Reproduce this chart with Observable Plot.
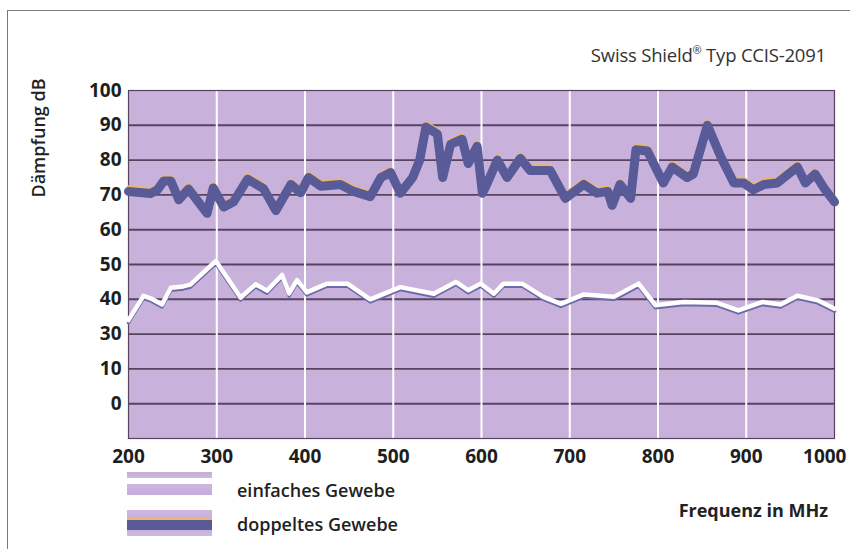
<!DOCTYPE html>
<html>
<head>
<meta charset="utf-8">
<script src="https://cdn.jsdelivr.net/npm/d3@7"></script>
<script src="https://cdn.jsdelivr.net/npm/@observablehq/plot@0.6"></script>
<style>
html, body { margin: 0; padding: 0; background: #fff; }
body { width: 850px; height: 549px; overflow: hidden; position: relative; font-family: "Open Sans", sans-serif; color: #1e1e1e; }
#pageframe { position: absolute; left: 7px; top: 10px; width: 900px; height: 600px; border-left: 1.5px solid #7a7a7a; border-top: 1.5px solid #7a7a7a; pointer-events: none; }
#head { position: relative; height: 75px; }
#title { position: absolute; right: 24px; top: 46px; font-size: 18.5px; line-height: 1; color: #333; white-space: nowrap; letter-spacing: -0.2px; }
#title sup { font-size: 11px; line-height: 0; position: relative; top: -1px; }
#ylabel { position: absolute; left: -27px; top: 129px; width: 130px; height: 18px; text-align: center; font-size: 18px; line-height: 18px; font-weight: 600; color: #222; white-space: nowrap; transform: rotate(-90deg); transform-origin: 50% 50%; }
#chart { height: 395px; }
#chart svg { display: block; }
#legend { position: relative; height: 79px; }
.sw { position: absolute; left: 127px; width: 85px; }
#sw1 { top: 2px; height: 23px; background: linear-gradient(to bottom, #c3acd8 0px, #cdb9e0 6px, #ffffff 6px, #ffffff 12px, #cdb9e0 12px, #c3acd8 23px); }
#sw2 { top: 40px; height: 26px; background: linear-gradient(to bottom, #cdb9e0 0px, #c8b2dc 7px, #e9b86a 7px, #e9b86a 10px, #5a5a98 10px, #5a5a98 20px, #c8b2dc 20px, #cdb9e0 26px); }
.lt { position: absolute; left: 237px; font-size: 18px; line-height: 1; font-weight: 600; white-space: nowrap; color: #222; }
#lt1 { top: 11px; }
#lt2 { top: 45px; }
#xlabel { position: absolute; right: 22px; top: 31px; font-size: 18px; line-height: 1; font-weight: 700; white-space: nowrap; color: #222; }
</style>
</head>
<body>
<div id="pageframe"></div>
<div id="head"><div id="title">Swiss Shield<sup>®</sup> Typ CCIS-2091</div></div>
<div id="chart"></div>
<div id="legend">
  <div class="sw" id="sw1"></div>
  <div class="lt" id="lt1">einfaches Gewebe</div>
  <div class="sw" id="sw2"></div>
  <div class="lt" id="lt2">doppeltes Gewebe</div>
  <div id="xlabel">Frequenz in MHz</div>
</div>
<div id="ylabel">Dämpfung dB</div>
<script>
// Frequency ticks (MHz)
const xTicks = [200, 300, 400, 500, 600, 700, 800, 900, 1000];
const xGrid = [300, 400, 500, 600, 700, 800, 900];

// Y tick positions and their printed labels (the original prints "10" and "0" at the 20 and 10 lines)
const yTickValues = [100, 90, 80, 70, 60, 50, 40, 30, 20, 10];
const yTickLabels = ["100", "90", "80", "70", "60", "50", "40", "30", "10", "0"];
const yGrid = [10, 20, 30, 40, 50, 60, 70, 80, 90];

// doppeltes Gewebe (double fabric)
const freqDoppelt = [200, 225, 233, 240, 248, 257, 268, 289, 296, 308, 319, 335, 353, 367, 384, 395, 404, 418, 440, 455, 474, 486, 497, 508, 522, 530, 537, 550, 556, 565, 578, 585, 595, 601, 605, 618, 629, 644, 655, 678, 695, 716, 731, 743, 748, 757, 769, 775, 788, 806, 816, 833, 840, 856, 871, 886, 897, 908, 920, 935, 958, 967, 978, 988, 1000];
const dbDoppelt   = [71, 70.4, 71.5, 74, 74, 68.6, 71.7, 64.7, 72, 66.5, 68, 74.5, 71.8, 65.5, 73, 70.6, 75, 72.5, 73, 71, 69.5, 75, 76.4, 70.5, 75, 80, 89.5, 87.5, 75, 84.5, 86, 79, 84, 70.5, 72.5, 80, 75, 80.5, 77, 77, 69, 73, 70.5, 71, 67, 73, 69, 83, 82.6, 73.4, 78, 75, 76, 90, 81, 73.4, 73.4, 71.5, 73, 73.4, 78, 73.4, 76, 72, 68];

// einfaches Gewebe (single fabric)
const freqEinfach = [200, 217, 225, 238, 248, 262, 270, 299, 327, 344, 357, 374, 382, 391, 399, 402, 425, 448, 474, 508, 546, 571, 585, 599, 614, 625, 646, 670, 690, 716, 750, 778, 797, 829, 867, 891, 918, 939, 958, 981, 1000];
const dbEinfach   = [34, 41, 40.3, 38.5, 43.3, 43.7, 44.2, 51, 40.5, 44.3, 42.5, 47, 41.7, 45.5, 43, 42, 44.5, 44.5, 40, 43.5, 41.6, 45, 42.6, 44.5, 41.6, 44.5, 44.5, 40.7, 38.7, 41.4, 40.7, 44.5, 38.3, 39.2, 39, 36.8, 39.2, 38.5, 41, 39.7, 37.3];

const doppelt = freqDoppelt.map((f, i) => ({f, v: dbDoppelt[i]}));
const einfach = freqEinfach.map((f, i) => ({f, v: dbEinfach[i]}));
const yLabelMap = new Map(yTickValues.map((v, i) => [v, yTickLabels[i]]));

const axisFont = {tickSize: 0, fontSize: 19, fontWeight: "bold", fill: "#1e1e1e", label: null};

const chart = Plot.plot({
  width: 850,
  height: 395,
  marginTop: 15,
  marginBottom: 32,
  marginLeft: 128,
  marginRight: 16,
  style: {background: "transparent", fontFamily: "Open Sans, sans-serif", color: "#1e1e1e"},
  x: {domain: [200, 1000]},
  y: {domain: [0, 100]},
  marks: [
    Plot.frame({fill: "#c8b2dc"}),
    Plot.ruleY(yGrid, {stroke: "#574360", strokeWidth: 1.9}),
    Plot.ruleX(xGrid, {stroke: "#ffffff", strokeWidth: 2}),
    Plot.frame({stroke: "#574360", strokeWidth: 1.2}),
    // einfaches Gewebe: white line with bluish lower edge
    Plot.line(einfach, {x: "f", y: "v", stroke: "#6e69aa", strokeWidth: 3.5, dy: 2.5, strokeLinejoin: "round"}),
    Plot.line(einfach, {x: "f", y: "v", stroke: "#ffffff", strokeWidth: 4.5, strokeLinejoin: "round"}),
    // doppeltes Gewebe: thick dark band with yellow upper edge
    Plot.line(doppelt, {x: "f", y: "v", stroke: "#eab865", strokeWidth: 3.5, dy: -4.5, strokeLinejoin: "round"}),
    Plot.line(doppelt, {x: "f", y: "v", stroke: "#595a98", strokeWidth: 9, strokeLinejoin: "round"}),
    Plot.axisX({...axisFont, ticks: xTicks.slice(0, -1), tickPadding: 11, tickFormat: d => String(d)}),
    Plot.axisX({...axisFont, ticks: xTicks.slice(-1), tickPadding: 11, textAnchor: "end", dx: 12, tickFormat: d => String(d)}),
    Plot.axisY({...axisFont, ticks: yTickValues, tickPadding: 7, tickFormat: d => yLabelMap.get(d)})
  ]
});
document.getElementById("chart").appendChild(chart);
</script>
</body>
</html>
